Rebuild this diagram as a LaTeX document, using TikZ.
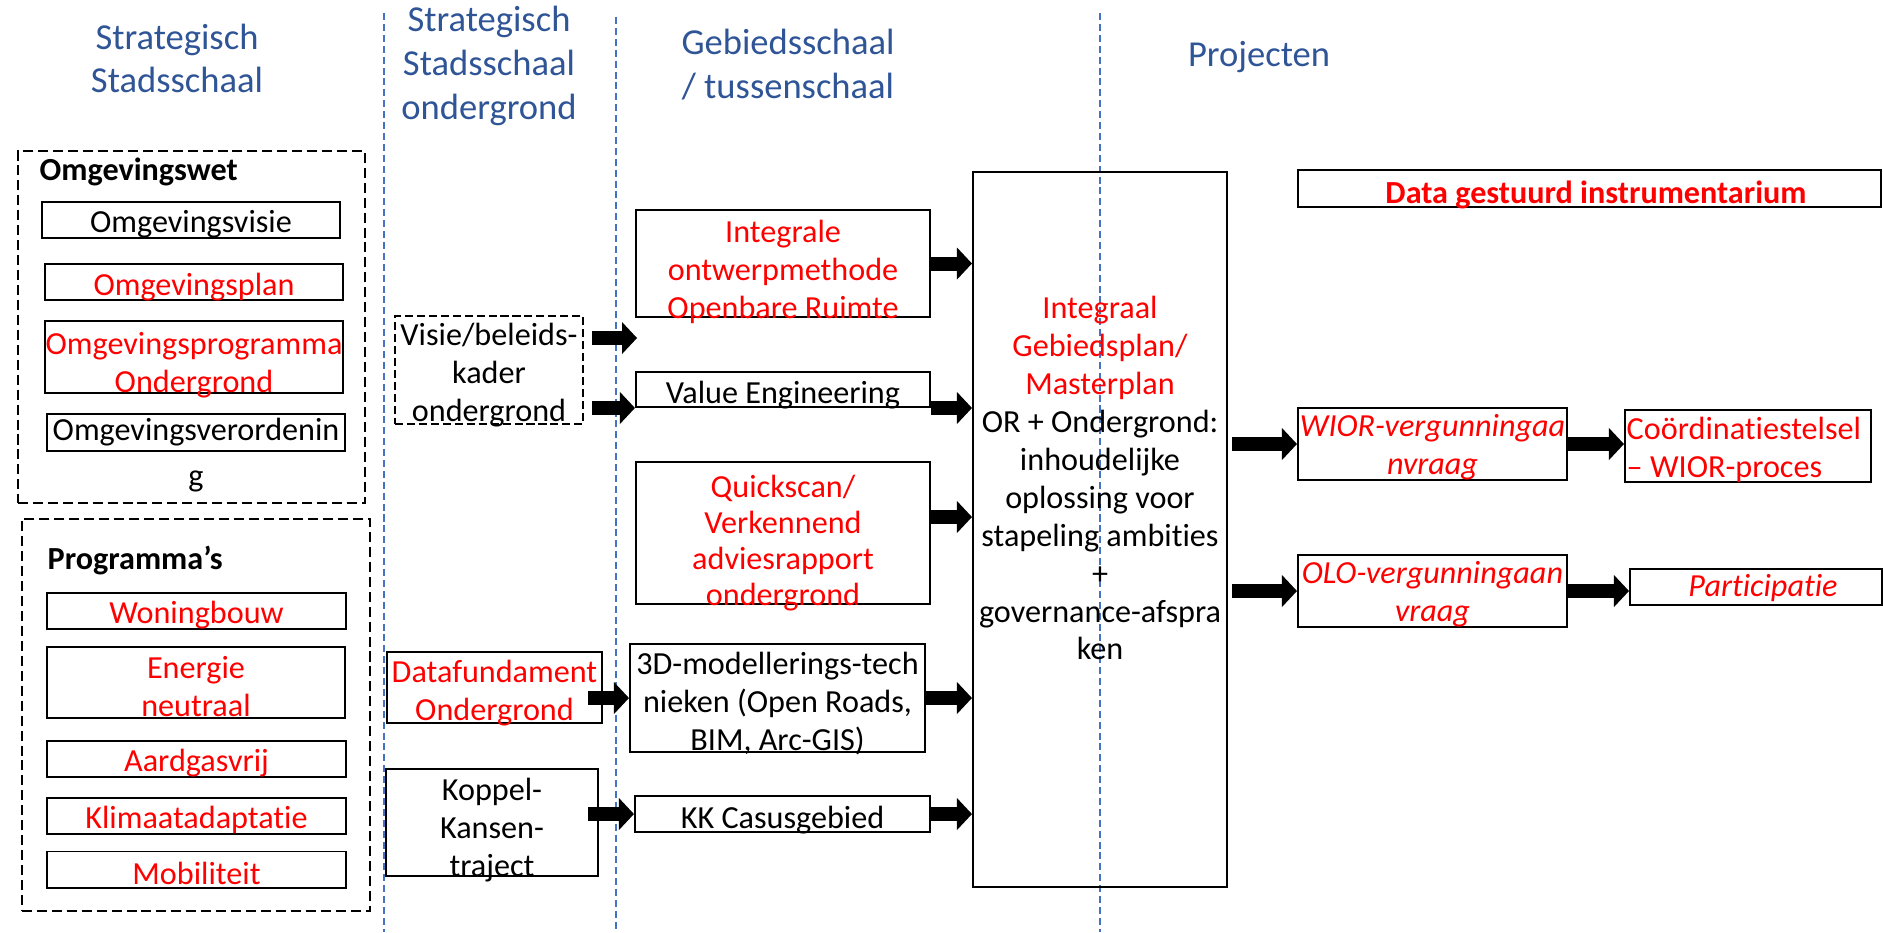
\documentclass[tikz,border=0pt]{standalone}
\usepackage{fontspec}
\setmainfont{Carlito}[Ligatures=NoCommon]
\usetikzlibrary{arrows.meta}

\definecolor{kopblauw}{RGB}{47,85,151}
\definecolor{lijnblauw}{RGB}{68,114,196}

\newcommand{\tekstfont}{\fontsize{9.15}{10.8}\selectfont}
\newcommand{\kopfont}{\fontsize{10.4}{12.4}\selectfont}

\tikzset{
    box/.style={draw, line width=0.55pt, inner sep=0pt},
    tekst/.style={align=center, font=\tekstfont, inner sep=0pt},
    groep/.style={draw, line width=0.7pt, dash pattern=on 2.85pt off 1.4pt, inner sep=0pt},
    kop/.style={text=kopblauw, align=center, font=\kopfont},
    scheiding/.style={lijnblauw, line width=0.45pt, dash pattern=on 2pt off 1.1pt},
    pijl/.style={line width=0.14cm, -{Triangle[length=0.15cm, width=0.32cm, line width=0pt]}}
}

\begin{document}
\begin{tikzpicture}[x=0.01cm, y=-0.01cm]

    \useasboundingbox (0,0) rectangle (1883,932);

    % kolomkoppen
    \node[kop] (kop1) at (177,58.5) {Strategisch\\Stadsschaal};
    \node[kop] (kop2) at (489,66) {Strategisch\\Stadsschaal\\ondergrond};
    \node[kop] (kop3) at (788,64.5) {Gebiedsschaal\\/ tussenschaal};
    \node[kop] (kop4) at (1259,57) {Projecten};

    % scheidingslijnen
    \draw[scheiding] (384,13) -- (384,932);
    \draw[scheiding] (616,17) -- (616,932);
    \draw[scheiding] (1100,13) -- (1100,932);

    % Omgevingswet
    \node[groep, minimum width=3.47cm, minimum height=3.52cm] (wet) at (191.5,327) {};
    \node[tekst, anchor=west, font=\tekstfont\bfseries] (wettitel) at (39,172) {Omgevingswet};
    \node[box, minimum width=2.98cm, minimum height=0.36cm] (ovisie) at (191,220) {};
    \node[box, minimum width=2.98cm, minimum height=0.36cm] (oplan) at (194,282) {};
    \node[box, minimum width=2.98cm, minimum height=0.72cm] (oprog) at (194,357) {};
    \node[box, minimum width=2.98cm, minimum height=0.37cm] (overord) at (196,432.5) {};
    \node[tekst] (ovisie-t) at (191,224) {Omgevingsvisie};
    \node[tekst, text=red] (oplan-t) at (194,287) {Omgevingsplan};
    \node[tekst, text=red] (oprog-t) at (194,365) {Omgevingsprogramma\\Ondergrond};
    \node[tekst] (overord-t) at (196,432.5) {Omgevingsverordenin};
    \node[tekst] (overord-g) at (196,481) {g};

    % Programma's
    \node[groep, minimum width=3.48cm, minimum height=3.92cm] (prog) at (196,715) {};
    \node[tekst, anchor=west, font=\tekstfont\bfseries] (progtitel) at (47,560) {Programma’s};
    \foreach \naam/\y/\tekst in {woning/611/Woningbouw, aardgas/759/Aardgasvrij, klimaat/816/Klimaatadaptatie, mobiel/869.5/Mobiliteit}
    {
        \node[box, minimum width=2.98cm, minimum height=0.36cm] (\naam) at (196.5,\y) {};
        \node[tekst, text=red] (\naam-t) at (196.5,\y+4) {\tekst};
    }
    \node[box, minimum width=2.98cm, minimum height=0.71cm] (energie) at (196,682.5) {};
    \node[tekst, text=red] (energie-t) at (196,686.5) {Energie\\neutraal};

    % stadsschaal ondergrond
    \node[box, line width=0.45pt, dash pattern=on 2.3pt off 1.1pt, minimum width=1.88cm, minimum height=1.08cm] (kader) at (489,370) {};
    \node[box, minimum width=2.15cm, minimum height=0.71cm] (datafund) at (494.5,687.5) {};
    \node[box, minimum width=2.12cm, minimum height=1.07cm] (koppel) at (492,822.5) {};
    \node[tekst] (kader-t) at (489,375) {Visie/beleids-\\kader\\ondergrond};
    \node[tekst, text=red] (datafund-t) at (494.5,693.5) {Datafundament\\Ondergrond};
    \node[tekst] (koppel-t) at (492,830.5) {Koppel-\\Kansen-\\traject};

    % gebiedsschaal
    \node[box, minimum width=2.94cm, minimum height=1.07cm] (ontwerp) at (783,263.5) {};
    \node[box, minimum width=2.94cm, minimum height=0.35cm] (value) at (783,389.5) {};
    \node[box, minimum width=2.94cm, minimum height=1.42cm] (quick) at (783,533) {};
    \node[box, minimum width=2.95cm, minimum height=1.08cm] (model) at (777.5,698) {};
    \node[box, minimum width=2.95cm, minimum height=0.36cm] (kk) at (782.5,814) {};
    \node[tekst, text=red] (ontwerp-t) at (783,271.5) {Integrale\\ontwerpmethode\\Openbare Ruimte};
    \node[tekst] (value-t) at (783,395.5) {Value Engineering};
    \node[tekst, text=red, font=\fontsize{9.15}{10.25}\selectfont] (quick-t) at (783,543) {Quickscan/\\Verkennend\\adviesrapport\\ondergrond};
    \node[tekst] (model-t) at (777.5,704) {3D-modellerings-tech\\nieken (Open Roads,\\BIM, Arc-GIS)};
    \node[tekst] (kk-t) at (782.5,820) {KK Casusgebied};

    \node[box, minimum width=2.54cm, minimum height=7.15cm] (gebiedsplan) at (1100,529.5) {};
    \node[tekst] (gebiedsplan-t) at (1100,478) {\textcolor{red}{Integraal}\\\textcolor{red}{Gebiedsplan/}\\\textcolor{red}{Masterplan}\\OR + Ondergrond:\\inhoudelijke\\oplossing voor\\stapeling ambities\\+\\governance-afspra\\ken};

    % projecten
    \node[box, minimum width=5.83cm, minimum height=0.37cm] (data) at (1589.5,188.5) {};
    \node[box, minimum width=2.69cm, minimum height=0.72cm] (wior) at (1432.5,444) {};
    \node[box, minimum width=2.46cm, minimum height=0.72cm] (coord) at (1748,446) {};
    \node[box, minimum width=2.69cm, minimum height=0.72cm] (olo) at (1432.5,591) {};
    \node[box, minimum width=2.52cm, minimum height=0.36cm] (partic) at (1756,587) {};
    \node[tekst, text=red, font=\tekstfont\bfseries] (data-t) at (1596,194.5) {Data gestuurd instrumentarium};
    \node[tekst, text=red, font=\tekstfont\itshape] (wior-t) at (1432.5,447) {WIOR-vergunningaa\\nvraag};
    \node[tekst, text=red, align=left, anchor=west] (coord-t) at (1626,450) {Coördinatiestelsel\\– WIOR-proces};
    \node[tekst, text=red, font=\tekstfont\itshape] (olo-t) at (1432.5,594) {OLO-vergunningaan\\vraag};
    \node[tekst, text=red, font=\tekstfont\itshape] (partic-t) at (1763,588) {Participatie};

    % pijlen
    \coordinate (leeg) at (637,338);
    \draw[pijl, shorten <=0.08cm] (kader.east |- leeg) -- (leeg);
    \draw[pijl, shorten <=0.08cm] (kader.east |- value.south) -- (value.south west);
    \draw[pijl, shorten <=-0.15cm] (datafund.east |- model.west) -- (model.west);
    \draw[pijl, shorten <=-0.11cm] (koppel.east |- kk.west) -- (kk.west);

    \coordinate (quickuit) at ([yshift=0.16cm]quick.east);
    \draw[pijl] (ontwerp.east) -- (ontwerp.east -| gebiedsplan.west);
    \draw[pijl] (value.south east) -- (value.south east -| gebiedsplan.west);
    \draw[pijl] (quickuit) -- (quickuit -| gebiedsplan.west);
    \draw[pijl] (model.east) -- (model.east -| gebiedsplan.west);
    \draw[pijl] (kk.east) -- (kk.east -| gebiedsplan.west);

    \draw[pijl, shorten <=0.04cm] (gebiedsplan.east |- wior.west) -- (wior.west);
    \draw[pijl, shorten <=0.04cm] (gebiedsplan.east |- olo.west) -- (olo.west);
    \draw[pijl] (wior.east) -- (wior.east -| coord.west);
    \draw[pijl] (olo.east) -- (olo.east -| partic.west);

\end{tikzpicture}
\end{document}
